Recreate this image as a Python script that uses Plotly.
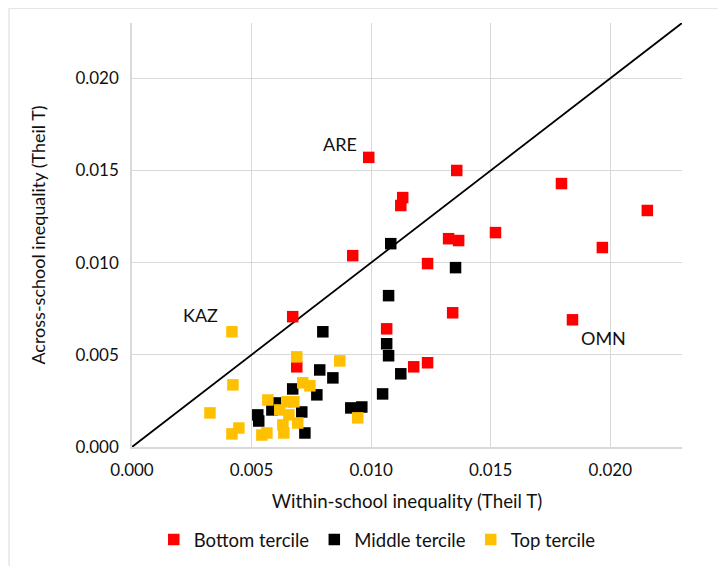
import plotly.graph_objects as go

# Bottom tercile (red)
bottom_x = [0.00990, 0.01358, 0.01132, 0.01124, 0.00923, 0.01324, 0.01366, 0.01520, 0.01796,
            0.02155, 0.01967, 0.01236, 0.01341, 0.01842, 0.01065, 0.01236, 0.01178, 0.00672, 0.00689]
bottom_y = [0.01571, 0.01500, 0.01353, 0.01310, 0.01038, 0.01130, 0.01120, 0.01163, 0.01429,
            0.01283, 0.01082, 0.00995, 0.00728, 0.00690, 0.00641, 0.00457, 0.00435, 0.00707, 0.00435]

# Middle tercile (black)
middle_x = [0.01082, 0.01353, 0.01073, 0.01065, 0.01073, 0.01124, 0.01048, 0.00798, 0.00785, 0.00840,
            0.00773, 0.00915, 0.00961, 0.00672, 0.00610, 0.00585, 0.00710, 0.00526, 0.00530, 0.00723]
middle_y = [0.01103, 0.00973, 0.00821, 0.00560, 0.00495, 0.00397, 0.00288, 0.00625, 0.00418, 0.00375,
            0.00283, 0.00212, 0.00217, 0.00315, 0.00239, 0.00201, 0.00190, 0.00174, 0.00141, 0.00076]

# Top tercile (yellow)
top_x = [0.00418, 0.00422, 0.00326, 0.00447, 0.00418, 0.00568, 0.00689, 0.00869, 0.00714, 0.00744,
         0.00647, 0.00677, 0.00618, 0.00656, 0.00631, 0.00693, 0.00635, 0.00543, 0.00564, 0.00944]
top_y = [0.00625, 0.00337, 0.00185, 0.00103, 0.00071, 0.00255, 0.00489, 0.00467, 0.00348, 0.00332,
         0.00245, 0.00245, 0.00201, 0.00174, 0.00120, 0.00130, 0.00076, 0.00065, 0.00076, 0.00158]

diag = [0.0, 0.023]

labels = [("ARE", bottom_x[0], bottom_y[0], -29, 13),
          ("KAZ", top_x[0], top_y[0], -31, 17),
          ("OMN", bottom_x[13], bottom_y[13], 31, -18)]

FONT = "Lato"
TXT = "#111111"

fig = go.Figure()
fig.add_trace(go.Scatter(x=diag, y=diag, mode="lines", line=dict(color="black", width=1.8),
                         showlegend=False, hoverinfo="skip"))
for name, xs, ys, col in [("Bottom tercile", bottom_x, bottom_y, "#ff0000"),
                          ("Middle tercile", middle_x, middle_y, "#000000"),
                          ("Top tercile", top_x, top_y, "#ffc000")]:
    fig.add_trace(go.Scatter(x=xs, y=ys, mode="markers", name=name,
                             marker=dict(symbol="square", size=11.5, color=col,
                                         line=dict(width=0))))

for txt, x, y, dx, dy in labels:
    fig.add_annotation(x=x, y=y, text=txt, showarrow=False, xshift=dx, yshift=dy,
                       font=dict(family=FONT, size=18, color=TXT))

# outer chart-area border
fig.add_shape(type="rect", xref="paper", yref="paper",
              x0=-0.2236, y0=-0.30, x1=1.09, y1=1.035,
              line=dict(color="#d9d9d9", width=1), fillcolor="rgba(0,0,0,0)", layer="below")

fig.update_layout(
    width=718, height=558,
    margin=dict(l=124, r=44, t=15, b=119, autoexpand=False),
    paper_bgcolor="white", plot_bgcolor="white",
    font=dict(family=FONT, size=17, color=TXT),
    legend=dict(orientation="h", x=0.0396, xanchor="left", y=-0.219, yanchor="middle",
                font=dict(family=FONT, size=18.5, color=TXT), itemwidth=30, tracegroupgap=0),
    showlegend=True,
)
fig.update_xaxes(range=[0, 0.023], tickvals=[0, 0.005, 0.010, 0.015, 0.020],
                 ticktext=["0.000", "0.005", "0.010", "0.015", "0.020"],
                 showgrid=True, gridcolor="#d9d9d9", gridwidth=1,
                 showline=True, linecolor="#d9d9d9", linewidth=1.5, zeroline=False,
                 ticks="", ticklabelstandoff=7, automargin=False,
                 title=dict(text="Within-school inequality (Theil T)", standoff=16,
                            font=dict(family=FONT, size=18.7, color=TXT)))
fig.update_yaxes(range=[0, 0.023], tickvals=[0, 0.005, 0.010, 0.015, 0.020],
                 ticktext=["0.000", "0.005", "0.010", "0.015", "0.020"],
                 showgrid=True, gridcolor="#d9d9d9", gridwidth=1,
                 showline=True, linecolor="#d9d9d9", linewidth=1.5, zeroline=False,
                 ticks="", ticklabelstandoff=8, automargin=False,
                 title=dict(text="Across-school inequality (Theil T)", standoff=25,
                            font=dict(family=FONT, size=18, color=TXT)))

fig.write_html("out.html")
